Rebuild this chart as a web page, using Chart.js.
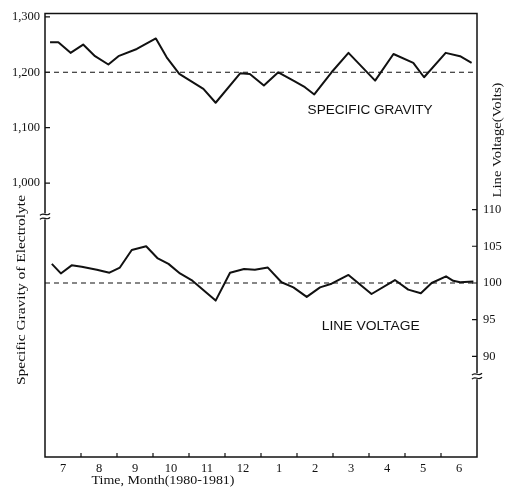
<!DOCTYPE html>
<html><head><meta charset="utf-8">
<script src="https://cdn.jsdelivr.net/npm/chart.js@4/dist/chart.umd.min.js"></script>
<style>html,body{margin:0;padding:0;background:#fff;}</style>
</head><body>
<canvas id="c" width="512" height="491"></canvas>
<script>
// ---- data ----
const monthLabels = ['7','8','9','10','11','12','1','2','3','4','5','6'];
const gravityMonths = [0.14,0.37,0.71,1.06,1.39,1.76,2.04,2.55,3.08,3.38,3.73,4.40,4.74,5.42,5.69,6.08,6.48,6.90,7.22,7.48,7.96,8.43,9.17,9.68,10.23,10.53,11.13,11.53,11.85];
const gravityValues = [1254,1254,1235,1250,1229,1214,1229,1242,1261,1227,1197,1170,1145,1198,1197,1176,1200,1185,1173,1160,1200,1235,1185,1233,1217,1191,1235,1229,1217];
const voltageMonths = [0.19,0.44,0.74,1.02,1.44,1.79,2.08,2.41,2.81,3.12,3.43,3.75,4.07,4.74,5.14,5.53,5.83,6.19,6.57,6.90,7.27,7.64,7.96,8.43,9.07,9.72,10.09,10.44,10.74,11.14,11.34,11.53,11.90];
const voltageValues = [102.6,101.3,102.4,102.2,101.8,101.4,102.1,104.5,105.0,103.4,102.6,101.3,100.4,97.6,101.4,101.9,101.8,102.1,100.1,99.4,98.1,99.4,99.9,101.1,98.5,100.4,99.1,98.6,100.0,100.9,100.3,100.1,100.2];
const gravityTicks = [1000,1100,1200,1300];
const voltageTicks = [90,95,100,105,110];
const gravityRef = 1200;
const voltageRef = 100;
const monthBoundaries = [1,2,3,4,5,6,7,8,9,10,11];

const serif = '"Liberation Serif", "DejaVu Serif", serif';
const sans = '"Liberation Sans", Arial, sans-serif';

function comma(v){ return String(v).replace(/\B(?=(\d{3})+(?!\d))/g, ','); }

function fitText(ctx, text, cx, cy, width, rot, font){
  ctx.save();
  ctx.font = font;
  ctx.fillStyle = '#111';
  ctx.textAlign = 'center';
  ctx.textBaseline = 'middle';
  ctx.translate(cx, cy);
  ctx.rotate(rot);
  const w = ctx.measureText(text).width;
  ctx.scale(width / w, 1);
  ctx.fillText(text, 0, 0);
  ctx.restore();
}

function breakMark(ctx, x, y){
  ctx.save();
  ctx.fillStyle = '#fff';
  ctx.fillRect(x - 2, y - 3, 4, 6);
  ctx.strokeStyle = '#111';
  ctx.lineWidth = 1.2;
  for (const dy of [-2, 2]) {
    ctx.beginPath();
    ctx.moveTo(x - 5, y + dy + 1);
    ctx.bezierCurveTo(x - 2, y + dy - 3, x + 2, y + dy + 3, x + 5, y + dy - 1);
    ctx.stroke();
  }
  ctx.restore();
}

const decor = {
  id: 'decor',
  afterDraw(chart){
    const ctx = chart.ctx;
    const a = chart.chartArea;
    const sx = chart.scales.x, sl = chart.scales.yL, sr = chart.scales.yR;
    ctx.save();
    ctx.strokeStyle = '#111';
    ctx.lineWidth = 1.5;
    ctx.strokeRect(a.left, a.top, a.right - a.left, a.bottom - a.top);
    ctx.lineWidth = 1.2;
    ctx.beginPath();
    for (const t of gravityTicks) { const y = sl.getPixelForValue(t); ctx.moveTo(a.left, y); ctx.lineTo(a.left + 5, y); }
    for (const t of voltageTicks) { const y = sr.getPixelForValue(t); ctx.moveTo(a.right, y); ctx.lineTo(a.right - 5, y); }
    for (const m of monthBoundaries) { const x = sx.getPixelForValue(m); ctx.moveTo(x, a.bottom); ctx.lineTo(x, a.bottom - 4); }
    ctx.stroke();
    ctx.restore();
    breakMark(ctx, a.left, sl.getPixelForValue(940));
    breakMark(ctx, a.right, sr.getPixelForValue(87.3));
    // axis titles
    fitText(ctx, 'Specific Gravity of Electrolyte', 22, 290, 190, -Math.PI/2, '13px ' + serif);
    fitText(ctx, 'Line Voltage(Volts)', 498, 140, 115, -Math.PI/2, '13px ' + serif);
    fitText(ctx, 'Time, Month(1980-1981)', 163, 481, 143, 0, '13px ' + serif);
    // series labels
    fitText(ctx, 'SPECIFIC GRAVITY', sx.getPixelForValue(9.03), sl.getPixelForValue(1131), 125, 0, '12px ' + sans);
    fitText(ctx, 'LINE VOLTAGE', sx.getPixelForValue(9.05), sr.getPixelForValue(94.1), 98, 0, '12px ' + sans);
  }
};

const lineStyle = { borderColor: '#111', borderWidth: 2, pointRadius: 0, tension: 0, fill: false, borderJoinStyle: 'round' };
const refStyle = { borderColor: '#111', borderWidth: 1.2, borderDash: [5, 4], pointRadius: 0, fill: false };

new Chart(document.getElementById('c'), {
  type: 'line',
  data: {
    datasets: [
      Object.assign({ label: 'Specific gravity', yAxisID: 'yL', data: gravityMonths.map((m, i) => ({ x: m, y: gravityValues[i] })) }, lineStyle),
      Object.assign({ label: 'Gravity reference', yAxisID: 'yL', data: [{ x: 0, y: gravityRef }, { x: 12, y: gravityRef }] }, refStyle),
      Object.assign({ label: 'Line voltage', yAxisID: 'yR', data: voltageMonths.map((m, i) => ({ x: m, y: voltageValues[i] })) }, lineStyle),
      Object.assign({ label: 'Voltage reference', yAxisID: 'yR', data: [{ x: 0, y: voltageRef }, { x: 12, y: voltageRef }] }, refStyle)
    ]
  },
  options: {
    responsive: false,
    animation: false,
    devicePixelRatio: 1,
    layout: { padding: { top: 13, left: 0, right: 0, bottom: 0 } },
    plugins: { legend: { display: false }, tooltip: { enabled: false } },
    scales: {
      x: {
        type: 'linear', position: 'bottom', min: 0, max: 12,
        afterBuildTicks: s => { s.ticks = monthLabels.map((l, i) => ({ value: i + 0.5 })); },
        afterFit: s => { s.height = 34; },
        ticks: { autoSkip: false, maxRotation: 0, padding: 4, color: '#111', font: { family: serif, size: 12.5 },
                 callback: v => monthLabels[Math.floor(v)] },
        grid: { display: false, drawTicks: false },
        border: { display: false }
      },
      yL: {
        type: 'linear', position: 'left', min: 506, max: 1306,
        afterBuildTicks: s => { s.ticks = gravityTicks.map(v => ({ value: v })); },
        afterFit: s => { s.width = 45; },
        ticks: { padding: 5, color: '#111', font: { family: serif, size: 12.5 }, callback: v => comma(v) },
        grid: { display: false, drawTicks: false },
        border: { display: false }
      },
      yR: {
        type: 'linear', position: 'right', min: 76.3, max: 136.7,
        afterBuildTicks: s => { s.ticks = voltageTicks.map(v => ({ value: v })); },
        afterFit: s => { s.width = 35; },
        ticks: { padding: 6, color: '#111', font: { family: serif, size: 12.5 }, callback: v => String(v) },
        grid: { display: false, drawTicks: false },
        border: { display: false }
      }
    }
  },
  plugins: [decor]
});
</script>
</body></html>
